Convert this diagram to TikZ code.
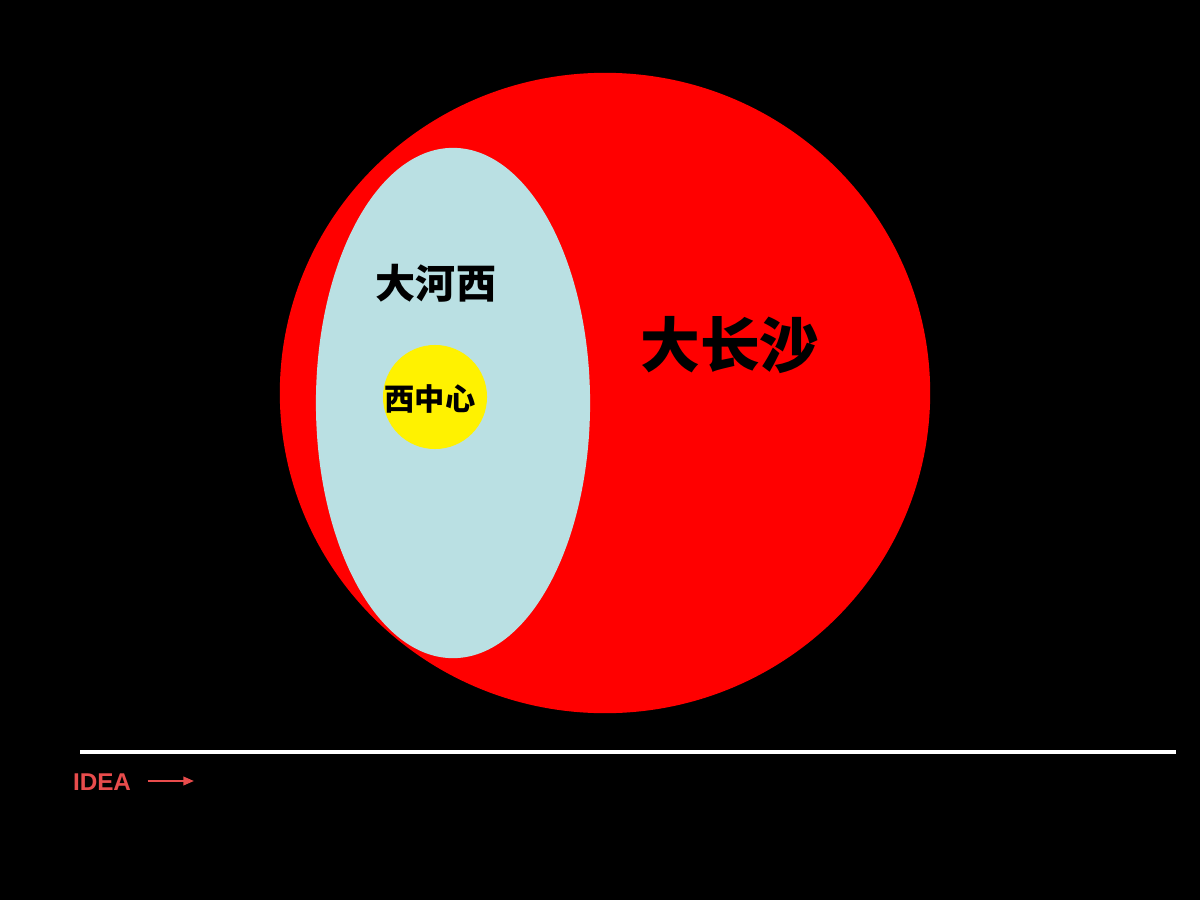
\documentclass[tikz,border=0pt]{standalone}
\usepackage{fontspec}
\setsansfont{Liberation Sans}
\newfontfamily\cjk{Noto Sans CJK SC}
\usetikzlibrary{arrows.meta,positioning,shapes.geometric}
\definecolor{lightcyan}{RGB}{186,224,227}
\definecolor{ideared}{RGB}{232,76,76}

\begin{document}
\begin{tikzpicture}[
  x=0.01cm, y=-0.01cm,
  region/.style={ellipse, inner sep=0pt, draw=none},
  place/.style={font=\cjk\bfseries, text=black, inner sep=0pt},
  arrow/.style={-{Triangle[length=3pt,width=2.4pt]}, line width=0.6pt, ideared}
]

% Background
\fill[black] (0,0) rectangle (1200,900);
\useasboundingbox (0,0) rectangle (1200,900);

% Regions
\node[region, fill=red, minimum width=6.5cm, minimum height=6.4cm] (big) at (605,393) {};
\node[region, fill=lightcyan, minimum width=2.74cm, minimum height=5.1cm] (west) at (453,403) {};
\node[circle, fill=yellow, inner sep=0pt, minimum size=1.04cm] (centre) at (435,397) {};

% Labels
\node[place, font=\cjk\bfseries\fontsize{11.4}{13}\selectfont] (westlbl) at (436,283) {大河西};
\node[place, font=\cjk\bfseries\fontsize{8.6}{10}\selectfont] (centrelbl) at (430,399) {西中心};
\node[place, font=\cjk\bfseries\fontsize{17}{20}\selectfont] (biglbl) at (730,345) {大长沙};

% Axis
\coordinate (axisL) at (80,752);
\coordinate (axisR) at (1176,752);
\draw[white, line width=1.3pt] (axisL) -- (axisR);

\node[font=\sffamily\bfseries\fontsize{6.9}{9}\selectfont, text=ideared, inner sep=0pt] (idea) at (102,782) {IDEA};
\coordinate (ideaend) at (194,781);
\draw[arrow] ([xshift=0.16cm]idea.east |- ideaend) -- (ideaend);

\end{tikzpicture}
\end{document}
